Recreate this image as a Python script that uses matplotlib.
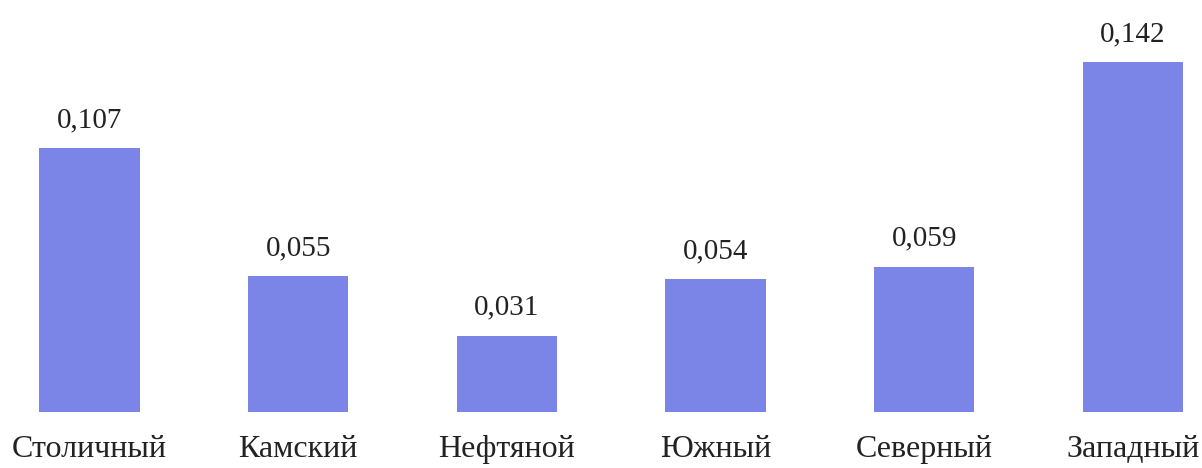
import matplotlib
matplotlib.use("Agg")
import matplotlib.pyplot as plt

categories = ["Столичный", "Камский", "Нефтяной", "Южный", "Северный", "Западный"]
values = [0.107, 0.055, 0.031, 0.054, 0.059, 0.142]
value_labels = ["0,107", "0,055", "0,031", "0,054", "0,059", "0,142"]

plt.rcParams['font.family'] = ['Liberation Serif', 'DejaVu Serif']

fig = plt.figure(figsize=(12.02, 4.68), dpi=100)
ax = fig.add_axes([0, 0, 1, 1])
x = list(range(len(categories)))
bars = ax.bar(x, values, width=0.48, color="#7B85E8")
ax.set_xlim(-0.429, 5.331)
ax.set_ylim(-0.0227, 0.1671)
for xi, v, lab in zip(x, values, value_labels):
    ax.annotate(lab, (xi, v), xytext=(0, 15), textcoords="offset pixels",
                ha="center", va="bottom", fontsize=21, color="#222222")
    ax.annotate(categories[xi], (xi, 0), xytext=(0, -23), textcoords="offset pixels",
                ha="center", va="top", fontsize=23, color="#222222")
ax.axis("off")
fig.savefig("out.png", dpi=100)
